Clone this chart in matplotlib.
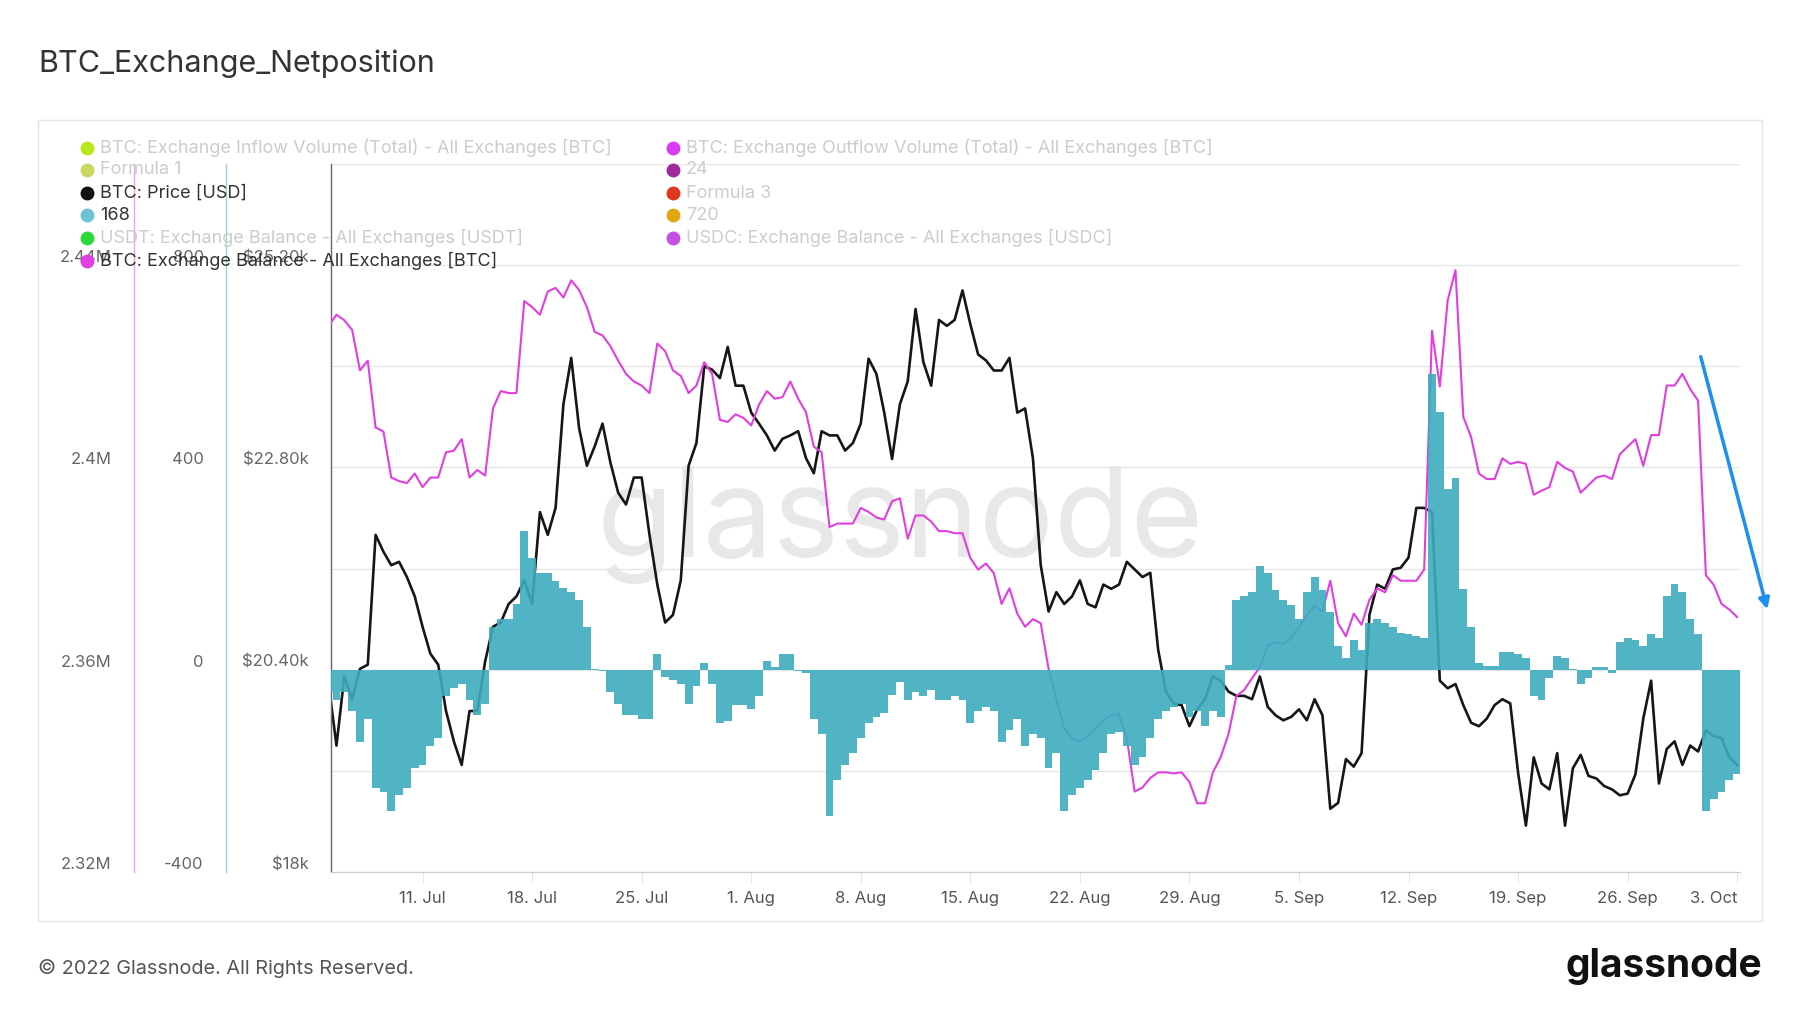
import matplotlib.pyplot as plt
import numpy as np
import pandas as pd
from matplotlib.lines import Line2D
from matplotlib.patches import Rectangle, FancyArrowPatch

plt.rcParams['font.family'] = ['Inter', 'DejaVu Sans']

# samples every 12 hours from 5 Jul 2022 00:00
start = pd.Timestamp('2022-07-05')

price = [
    20230, 19500, 20320, 20050, 20410, 20460, 22000, 21800, 21640, 21680,
    21500, 21270, 20910, 20590, 20460, 19910, 19550, 19270, 19910, 19910,
    20500, 20910, 20960, 21180, 21270, 21460, 21180, 22270, 22000, 22320,
    23550, 24100, 23270, 22820, 23050, 23320, 22860, 22500, 22360, 22680,
    22680, 22000, 21410, 20960, 21050, 21460, 22820, 23090, 24000, 23960,
    23860, 24230, 23770, 23770, 23450, 23320, 23180, 23000, 23140, 23180,
    23230, 22910, 22730, 23230, 23180, 23180, 23000, 23090, 23320, 24090,
    23910, 23450, 22900, 23550, 23820, 24680, 24050, 23770, 24550, 24480,
    24550, 24900, 24500, 24140, 24070, 23950, 23950, 24100, 23450, 23500,
    22910, 21640, 21090, 21320, 21180, 21270, 21460, 21180, 21140, 21410,
    21360, 21410, 21680, 21590, 21500, 21550, 20640, 20140, 20000, 19980,
    19730, 19930, 20050, 20320, 20270, 20140, 20090, 20090, 20050, 20320,
    19960, 19860, 19800, 19840, 19930, 19800, 20050, 19860, 18750, 18820,
    19340, 19250, 19410, 21050, 21410, 21360, 21590, 21610, 21730, 22320,
    22320, 22270, 20270, 20180, 20230, 19980, 19770, 19730, 19820, 19980,
    20050, 20000, 19180, 18550, 19360, 19050, 18980, 19410, 18550, 19230,
    19390, 19140, 19110, 19020, 18980, 18910, 18930, 19160, 19820, 20270,
    19050, 19460, 19550, 19270, 19500, 19430, 19680, 19610, 19590, 19360,
    19270]

# exchange balance, millions of BTC
balance = [
    2.4280, 2.4302, 2.4291, 2.4272, 2.4192, 2.4211, 2.4079, 2.4071, 2.3980, 2.3973,
    2.3969, 2.3988, 2.3961, 2.3980, 2.3980, 2.4030, 2.4033, 2.4056, 2.3980, 2.3995,
    2.3984, 2.4117, 2.4151, 2.4147, 2.4147, 2.4329, 2.4317, 2.4302, 2.4348, 2.4355,
    2.4336, 2.4370, 2.4351, 2.4317, 2.4268, 2.4261, 2.4240, 2.4211, 2.4185, 2.4170,
    2.4162, 2.4147, 2.4245, 2.4230, 2.4192, 2.4181, 2.4147, 2.4162, 2.4208, 2.4185,
    2.4094, 2.4090, 2.4105, 2.4098, 2.4083, 2.4124, 2.4151, 2.4136, 2.4139, 2.4170,
    2.4136, 2.4109, 2.4041, 2.4030, 2.3882, 2.3889, 2.3889, 2.3889, 2.3920, 2.3912,
    2.3901, 2.3897, 2.3933, 2.3939, 2.3859, 2.3905, 2.3905, 2.3893, 2.3874, 2.3874,
    2.3870, 2.3870, 2.3821, 2.3798, 2.3810, 2.3791, 2.3730, 2.3761, 2.3711, 2.3685,
    2.3700, 2.3692, 2.3602, 2.3541, 2.3484, 2.3465, 2.3458, 2.3469, 2.3484, 2.3499,
    2.3511, 2.3511, 2.3465, 2.3359, 2.3367, 2.3386, 2.3397, 2.3397, 2.3395, 2.3397,
    2.3378, 2.3336, 2.3336, 2.3397, 2.3427, 2.3473, 2.3548, 2.3560, 2.3583, 2.3605,
    2.3647, 2.3655, 2.3651, 2.3662, 2.3685, 2.3708, 2.3727, 2.3715, 2.3776, 2.3692,
    2.3666, 2.3711, 2.3689, 2.3738, 2.3761, 2.3753, 2.3787, 2.3776, 2.3776, 2.3776,
    2.3798, 2.4270, 2.4160, 2.4330, 2.4390, 2.4100, 2.4060, 2.3988, 2.3977, 2.3977,
    2.4018, 2.4007, 2.4011, 2.4007, 2.3946, 2.3954, 2.3961, 2.4011, 2.3999, 2.3992,
    2.3950, 2.3965, 2.3980, 2.3984, 2.3977, 2.4026, 2.4041, 2.4056, 2.4003, 2.4064,
    2.4064, 2.4162, 2.4162, 2.4185, 2.4155, 2.4132, 2.3787, 2.3768, 2.3730, 2.3719,
    2.3704]

# 168h net position change, BTC
netflow = [
    -44, -59, -44, -82, -142, -97, -233, -241, -279, -248,
    -233, -195, -188, -150, -135, -52, -36, -29, -59, -89,
    -67, 85, 100, 100, 130, 274, 221, 191, 191, 176,
    161, 153, 138, 85, 2, -2, -44, -67, -89, -89,
    -97, -97, 32, -14, -21, -29, -67, -33, 13, -29,
    -105, -101, -70, -70, -78, -52, 17, 5, 32, 32,
    -2, -6, -97, -127, -290, -218, -188, -165, -135, -105,
    -93, -86, -50, -25, -59, -44, -52, -40, -59, -59,
    -52, -59, -105, -82, -74, -82, -142, -120, -97, -150,
    -127, -135, -195, -165, -279, -248, -233, -218, -199, -165,
    -127, -123, -150, -188, -173, -135, -97, -82, -74, -67,
    -93, -82, -112, -82, -93, 9, 138, 145, 153, 206,
    191, 157, 138, 127, 100, 153, 183, 157, 115, 47,
    24, 58, 39, 92, 100, 92, 85, 73, 70, 66,
    62, 585, 509, 358, 380, 160, 85, 13, 8, 8,
    36, 36, 32, 24, -52, -59, -17, 28, 24, 2,
    -29, -17, 5, 5, -6, 55, 62, 58, 47, 70,
    62, 145, 170, 153, 100, 70, -279, -256, -241, -218,
    -207]

dates = pd.date_range(start, periods=len(price), freq='12h')

price_ticks = [18000, 19200, 20400, 21600, 22800, 24000, 25200, 26400]
price_labels = ['$18k', '', '$20.40k', '', '$22.80k', '', '$25.20k', '']
net_ticks = [-400, -200, 0, 200, 400, 600, 800, 1000]
net_labels = ['-400', '', '0', '', '400', '', '800', '']
bal_ticks = [2.32, 2.34, 2.36, 2.38, 2.40, 2.42, 2.44, 2.46]
bal_labels = ['2.32M', '', '2.36M', '', '2.4M', '', '2.44M', '']

x_ticks = pd.date_range('2022-07-11', '2022-10-03', freq='7D')
x_labels = [f'{d.day}. {d.strftime("%b")}' for d in x_ticks]

legend_left = [
    ('BTC: Exchange Inflow Volume (Total) - All Exchanges [BTC]', '#b9e61c', False),
    ('Formula 1', '#c9d660', False),
    ('BTC: Price [USD]', '#111111', True),
    ('168', '#6cc3d1', True),
    ('USDT: Exchange Balance - All Exchanges [USDT]', '#2fd83a', False),
    ('BTC: Exchange Balance - All Exchanges [BTC]', '#e040e0', True),
]
legend_right = [
    ('BTC: Exchange Outflow Volume (Total) - All Exchanges [BTC]', '#d83cf2', False),
    ('24', '#a1299b', False),
    ('Formula 3', '#e2351e', False),
    ('720', '#e3a612', False),
    ('USDC: Exchange Balance - All Exchanges [USDC]', '#c550e6', False),
]

W, H = 1800, 1013
fig = plt.figure(figsize=(18, 10.13), dpi=100)
fig.patch.set_facecolor('white')

ax = fig.add_axes([331 / W, 1 - 872 / H, 1409 / W, 708 / H])
ax_bal = ax.twinx()
ax_net = ax.twinx()
ax.set_zorder(1)
ax_bal.set_zorder(2)
ax_net.set_zorder(3)
for a in (ax_bal, ax_net):
    a.patch.set_visible(False)

ax.plot(dates, price, color='#161616', lw=1.9)
ax_bal.plot(dates, balance, color='#e03fe0', lw=1.5)
ax_net.bar(dates, netflow, width=0.5, color='#3eacbf', alpha=0.9, linewidth=0)

ax.set_ylim(18000, 26400)
ax_net.set_ylim(-400, 1000)
ax_bal.set_ylim(2.32, 2.46)
ax.set_xlim(start + pd.Timedelta(hours=3.6), start + pd.Timedelta(days=90.18))

ax.text(0.404, 0.49, 'glassnode', transform=ax.transAxes, fontsize=90,
        color='#e8e8e8', ha='center', va='center', zorder=0)

# y axes
ax.set_yticks(price_ticks, price_labels)
ax.grid(axis='y', color='#e6e6e6', lw=1)
ax.set_axisbelow(True)
ax_net.set_yticks(net_ticks, net_labels)
ax_bal.set_yticks(bal_ticks, bal_labels)

for a, pos, col in ((ax, 0.0, '#666666'), (ax_net, -0.0745, '#9fd4df'),
                    (ax_bal, -0.1398, '#e9a6ea')):
    a.yaxis.set_ticks_position('left')
    for s in ('top', 'right'):
        a.spines[s].set_visible(False)
    a.spines['left'].set_visible(True)
    a.spines['left'].set_position(('axes', pos))
    a.spines['left'].set_color(col)
    a.spines['left'].set_linewidth(1)
    a.tick_params(axis='y', length=0, pad=16, labelsize=12, labelcolor='#666666')
    for t in a.get_yticklabels():
        t.set_verticalalignment('bottom')
for a in (ax_net, ax_bal):
    a.spines['bottom'].set_visible(False)

# x axis
ax.spines['bottom'].set_color('#cccccc')
ax.set_xticks(x_ticks, x_labels)
ax.tick_params(axis='x', length=8, color='#e6e6e6', pad=6, labelsize=12,
               labelcolor='#555555')
ax.get_xticklabels()[-1].set_horizontalalignment('right')

# frame, title, footer
fig.add_artist(Rectangle((38 / W, 1 - 921 / H), 1724 / W, 801 / H,
                         transform=fig.transFigure, fill=False,
                         ec='#e4e4e4', lw=1))
fig.text(38 / W, 1 - 64 / H, 'BTC_Exchange_Netposition', fontsize=22,
         color='#333333', va='center')
fig.text(38 / W, 1 - 968 / H, '\u00a9 2022 Glassnode. All Rights Reserved.',
         fontsize=14.3, color='#555555', va='center')
fig.text(1762 / W, 1 - 966 / H, 'glassnode', fontsize=28, weight='bold',
         color='#111111', ha='right', va='center')

# legend
rows = [148, 170, 193, 215, 238, 261]
for col_x, items in ((87, legend_left), (673, legend_right)):
    for (name, c, active), y in zip(items, rows):
        fig.add_artist(Line2D([col_x / W], [1 - y / H], marker='o', ms=9,
                              color=c, mec=c, transform=fig.transFigure,
                              zorder=5))
        fig.text((col_x + 13) / W, 1 - y / H, name, fontsize=13,
                 color='#333333' if active else '#cccccc', va='center', zorder=5)

# annotation arrow
fig.add_artist(FancyArrowPatch((1700 / W, 1 - 354 / H), (1768 / W, 1 - 612 / H),
                               transform=fig.transFigure, arrowstyle='-|>',
                               mutation_scale=16, color='#1d8ff0', lw=2.5,
                               zorder=10))

fig.savefig('out.png', dpi=100)
